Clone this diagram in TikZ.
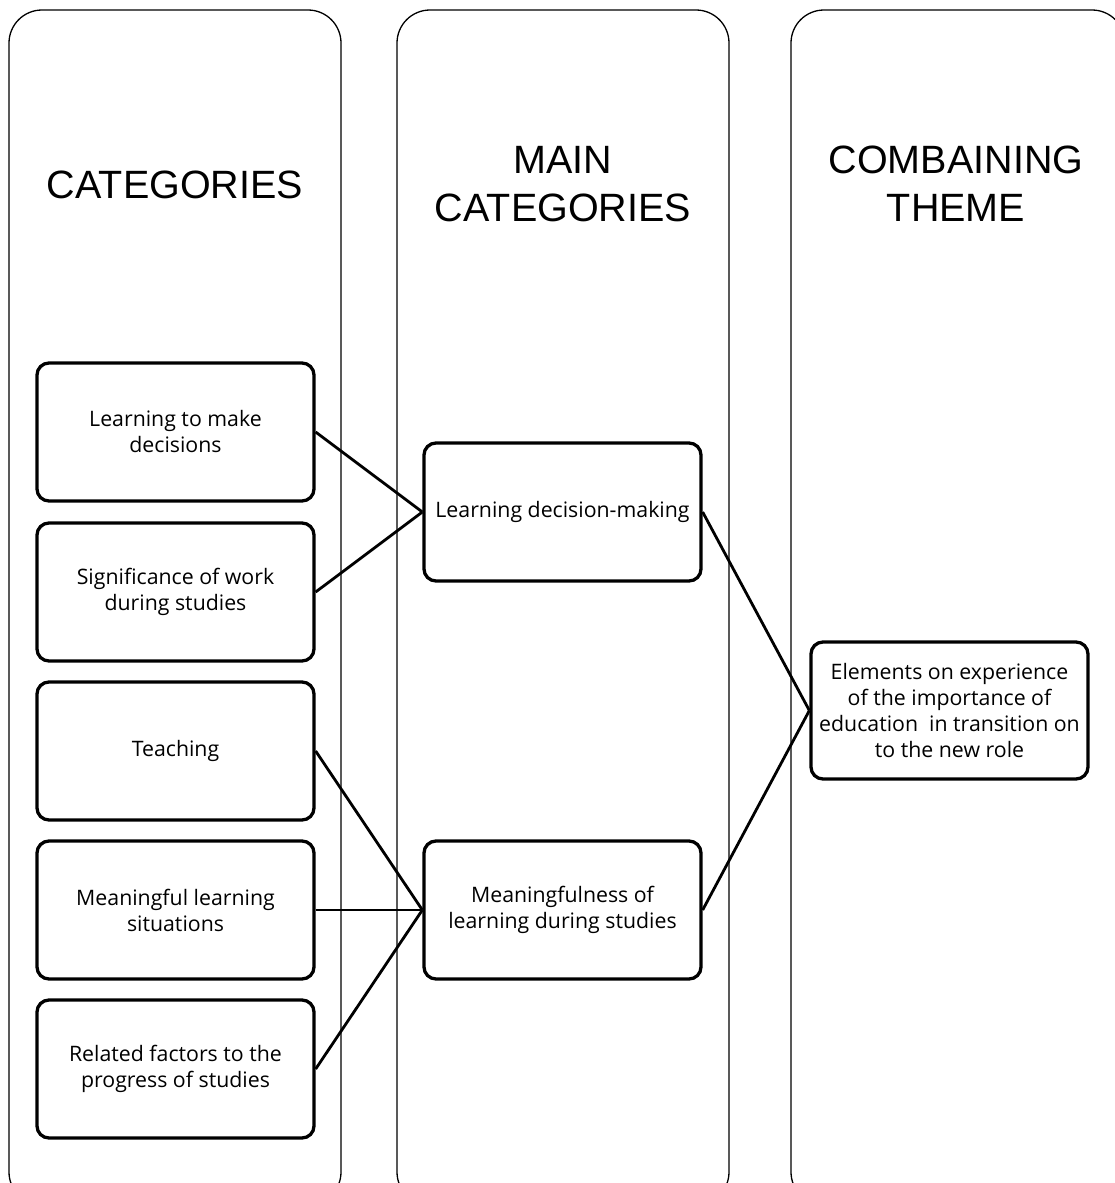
\documentclass[tikz,border=0pt]{standalone}
\usepackage{fontspec}
\setmainfont{Open Sans}
\newfontfamily\titlefont{Liberation Sans}
\begin{document}
\begin{tikzpicture}[x=1pt,y=-1pt,
  column/.style={draw=black,line width=1.3pt,rounded corners=33pt},
  itembox/.style={draw=black,line width=3.3pt,rounded corners=12pt,minimum width=277pt,minimum height=138pt,align=center,font=\fontsize{21.3}{26}\selectfont,inner sep=2pt},
  title/.style={align=center,font=\titlefont\fontsize{39.5}{48}\selectfont},
  link/.style={draw=black,line width=2.8pt}]
\useasboundingbox (0,0) rectangle (1115,1183);
\clip (0,0) rectangle (1115,1183);
% columns
\draw[column] (9,10) rectangle (341,1205);
\draw[column] (397,10) rectangle (729,1205);
\draw[column] (791,10) rectangle (1125,1205);
% titles
\node[title] (t1) at (175,185) {CATEGORIES};
\node[title] (t2) at (563,184) {MAIN\\CATEGORIES};
\node[title] (t3) at (956,184) {COMBAINING\\THEME};
% left boxes
\node[itembox] (c1) at (175.5,432) {Learning to make\\decisions};
\node[itembox] (c2) at (175.5,592) {Significance of work\\during studies};
\node[itembox] (c3) at (175.5,751) {Teaching};
\node[itembox] (c4) at (175.5,910) {Meaningful learning\\situations};
\node[itembox] (c5) at (175.5,1069) {Related factors to the\\progress of studies};
% middle boxes
\node[itembox] (m1) at (562.5,512) {Learning decision-making};
\node[itembox] (m2) at (562.5,910) {Meaningfulness of\\learning during studies};
% right box
\node[itembox,minimum height=137pt] (r1) at (949.5,710.5) {Elements on experience\\of the importance of\\education\ \ in transition on\\to the new role};
% links
\draw[link] (c1.east) -- (m1.west);
\draw[link] (c2.east) -- (m1.west);
\draw[link] (c3.east) -- (m2.west);
\draw[link] (c4.east) -- (m2.west);
\draw[link] (c5.east) -- (m2.west);
\draw[link] (m1.east) -- (r1.west);
\draw[link] (m2.east) -- (r1.west);
\end{tikzpicture}
\end{document}
